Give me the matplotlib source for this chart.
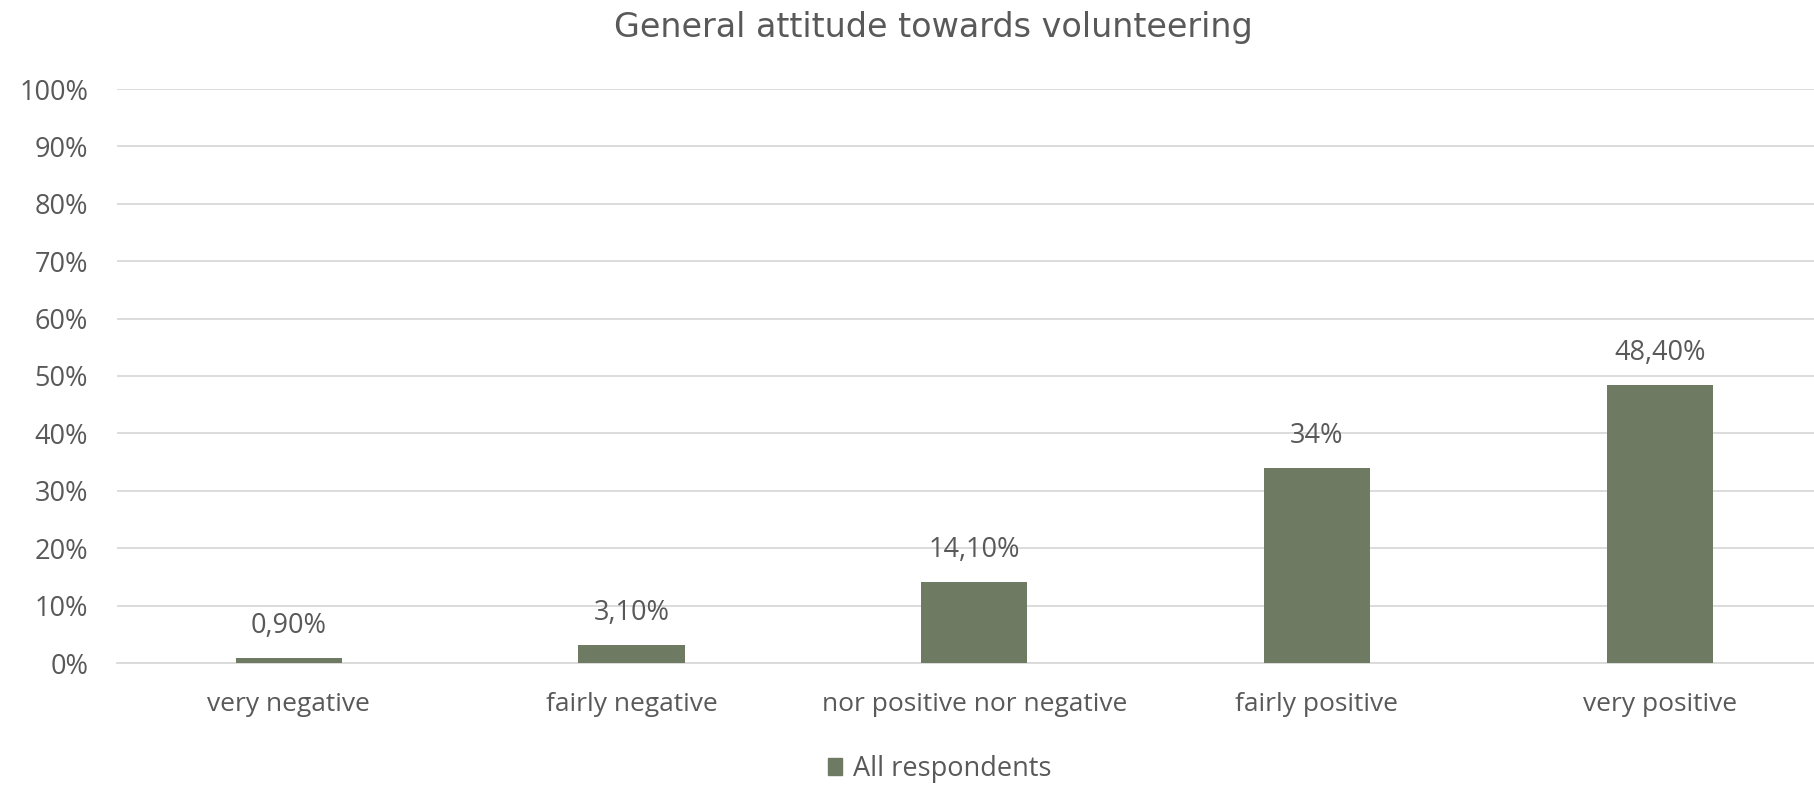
import matplotlib
matplotlib.use("Agg")
import matplotlib.pyplot as plt

categories = ["very negative", "fairly negative", "nor positive nor negative", "fairly positive", "very positive"]
values = [0.009, 0.031, 0.141, 0.34, 0.484]
value_labels = ["0,90%", "3,10%", "14,10%", "34%", "48,40%"]
yticks = [0.0, 0.1, 0.2, 0.3, 0.4, 0.5, 0.6, 0.7, 0.8, 0.9, 1.0]
ytick_labels = ["0%", "10%", "20%", "30%", "40%", "50%", "60%", "70%", "80%", "90%", "100%"]
series_name = "All respondents"
title = "General attitude towards volunteering"

W, H, DPI = 1815, 790, 100
fig = plt.figure(figsize=(W / DPI, H / DPI), dpi=DPI)
fig.patch.set_facecolor("white")

left, right, bottom, top = 117.4, 1831, 663, 89
ax = fig.add_axes([left / W, 1 - bottom / H, (right - left) / W, (bottom - top) / H])

bar_color = "#6e7a61"
text_color = "#595959"
grid_color = "#d9d9d9"
tick_font = "Open Sans"
fs = 19.5

x = list(range(len(categories)))
bars = ax.bar(x, values, width=0.31, color=bar_color, zorder=3, label=series_name)

ax.set_xlim(-0.5, len(categories) - 0.5)
ax.set_ylim(0, 1.0)
ax.set_yticks(yticks)
ax.set_yticklabels(ytick_labels, fontsize=fs, color=text_color, family=tick_font)
ax.set_xticks(x)
ax.set_xticklabels(categories, fontsize=19, color=text_color, family=tick_font)
ax.tick_params(axis="both", length=0)
ax.tick_params(axis="y", pad=21)
ax.tick_params(axis="x", pad=21)
for lab in ax.get_yticklabels():
    lab.set_horizontalalignment("right")

ax.grid(axis="y", color=grid_color, linewidth=1.3, zorder=0)
for s in ["top", "right", "left"]:
    ax.spines[s].set_visible(False)
ax.spines["bottom"].set_color(grid_color)
ax.spines["bottom"].set_linewidth(1.3)

for xi, v, lab in zip(x, values, value_labels):
    ax.annotate(lab, (xi, v), xytext=(0, 23), textcoords="offset points",
                ha="center", va="center", fontsize=fs, color=text_color, family=tick_font)

fig.text(933 / W, 1 - 28 / H, title, ha="center", va="center",
         fontsize=24, color=text_color, family="DejaVu Sans")

handle = plt.Rectangle((0, 0), 1, 1, color=bar_color)
fig.legend([handle], [series_name], loc="center", bbox_to_anchor=(940 / W, 1 - 769 / H),
           frameon=False, prop={"family": tick_font, "size": fs},
           labelcolor=text_color, handlelength=0.5, handleheight=0.6, handletextpad=0.42)

fig.savefig("out.png", dpi=DPI, facecolor="white")
